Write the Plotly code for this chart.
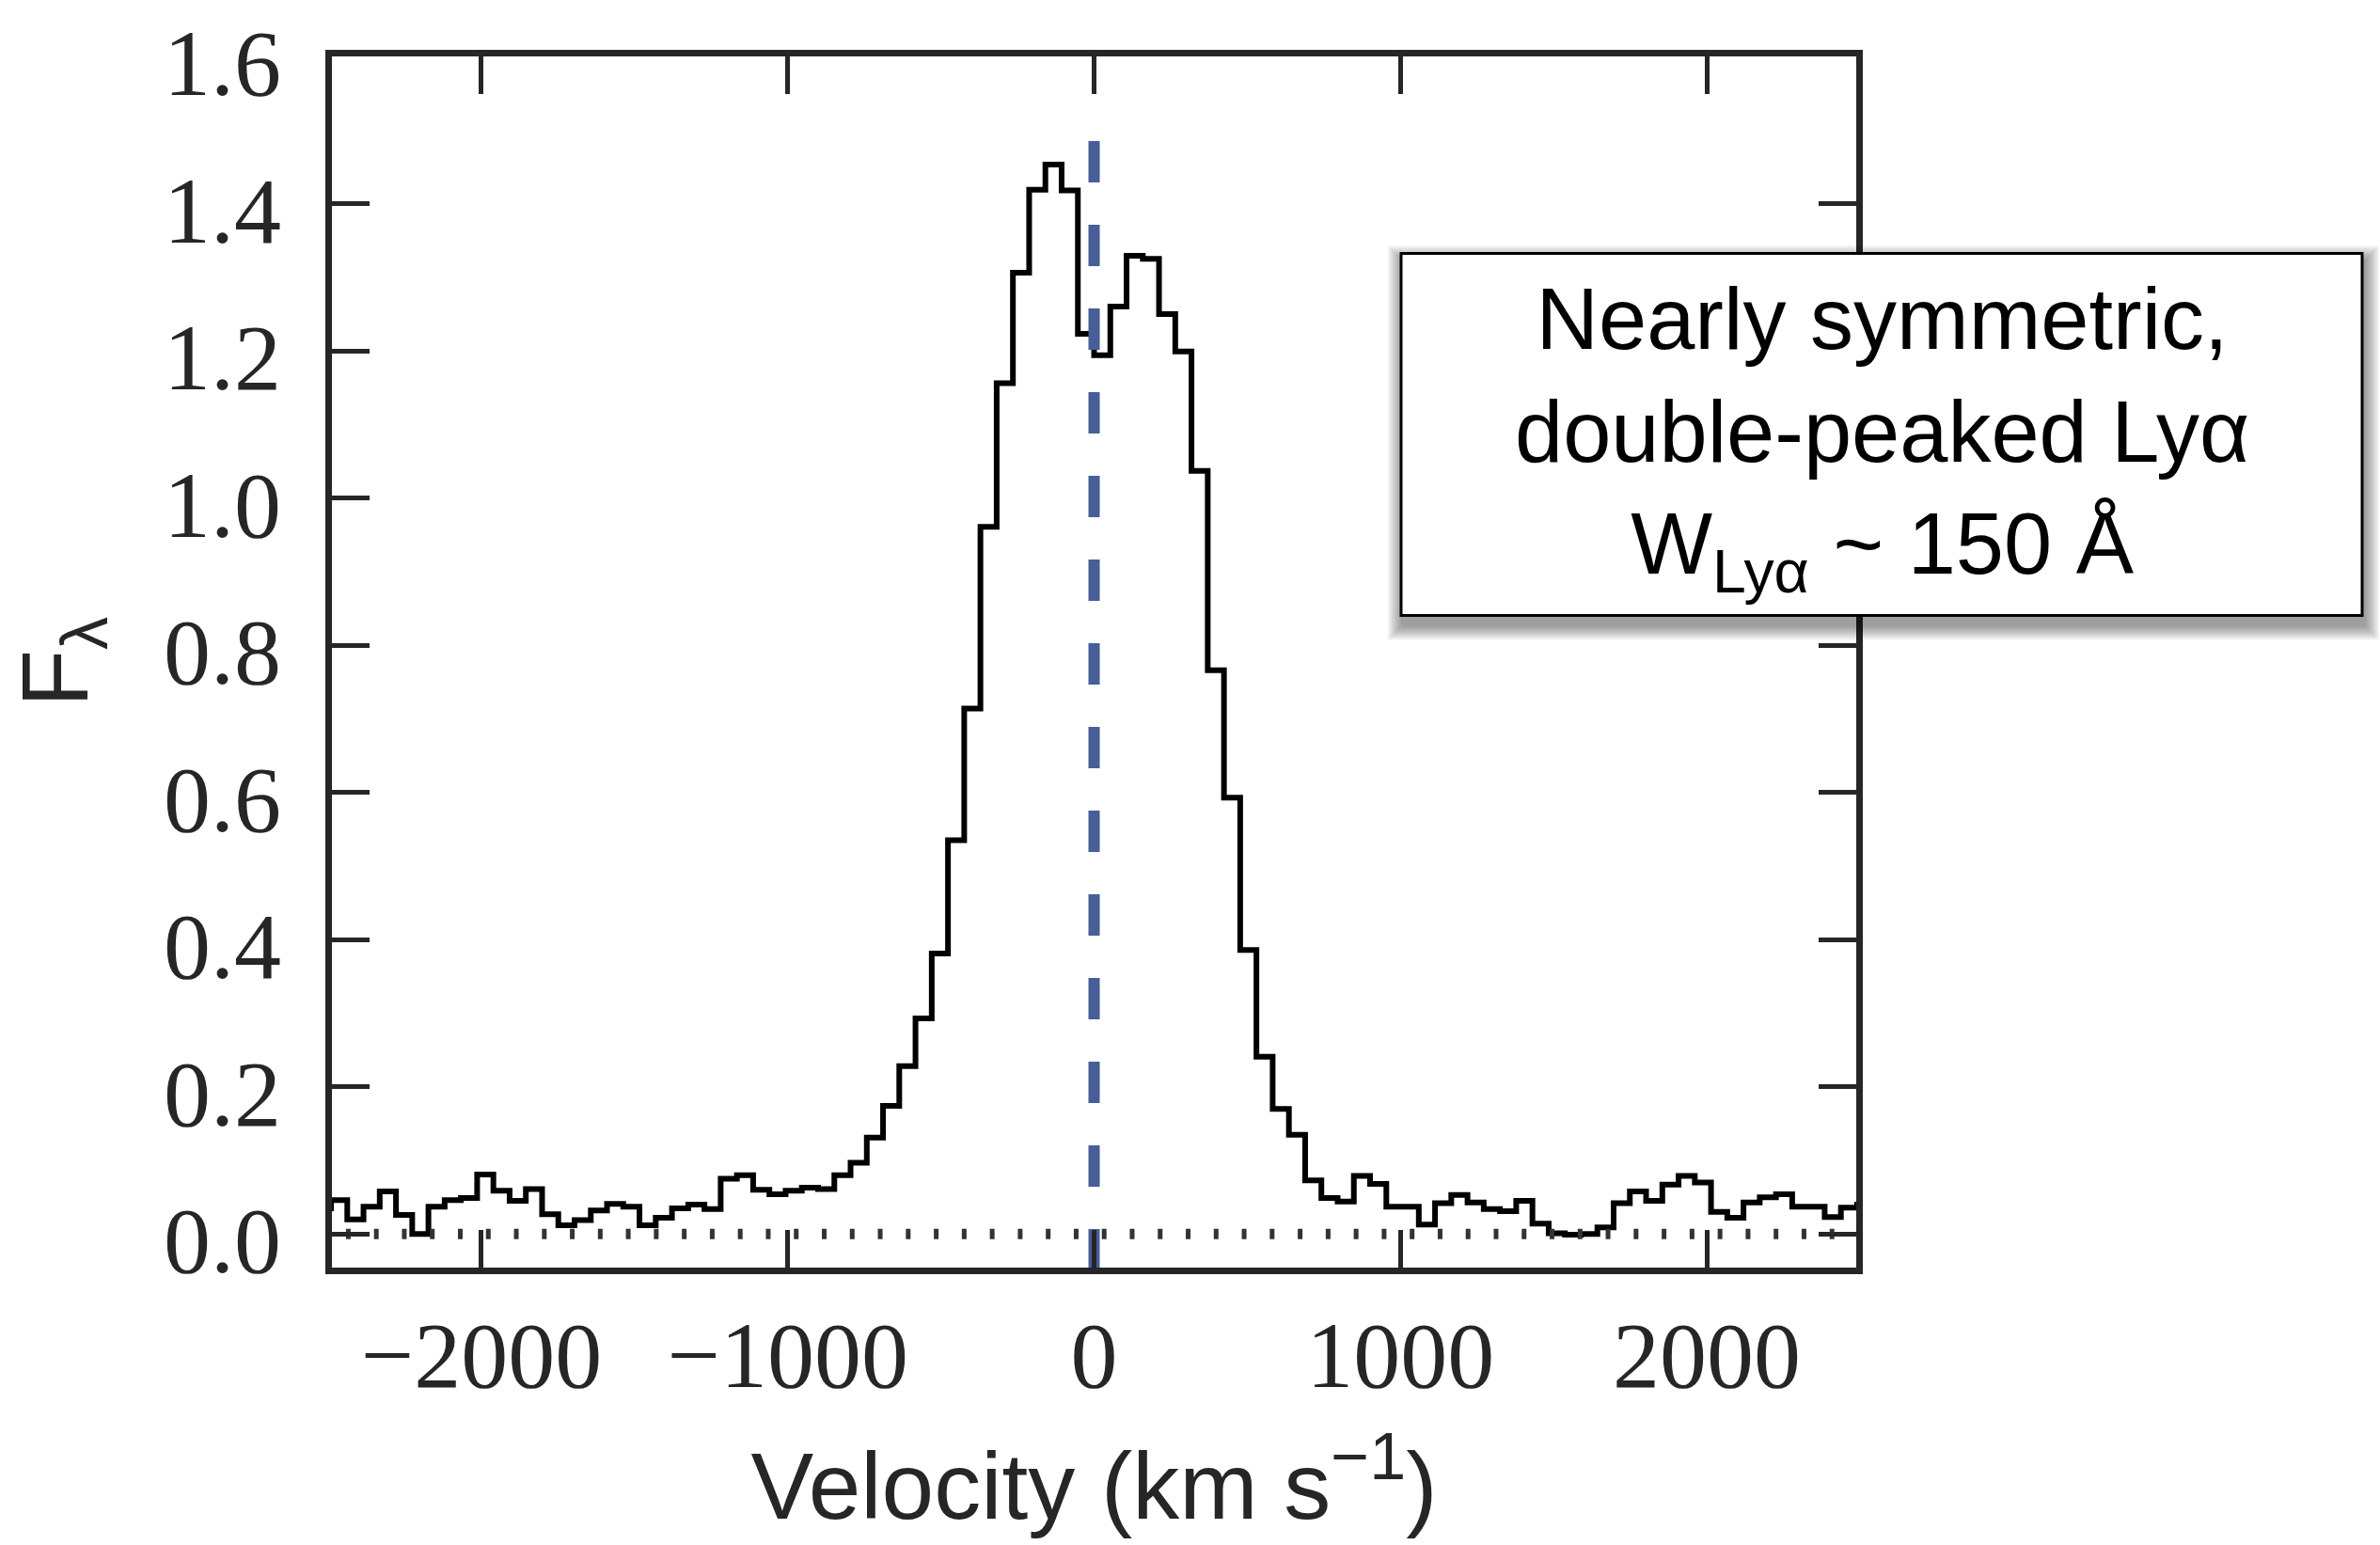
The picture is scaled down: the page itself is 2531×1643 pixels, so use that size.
import plotly.graph_objects as go

# ---------------- data ----------------
velocity = [
    -2517.5, -2464.5, -2411.5, -2358.5, -2305.5, -2252.5, -2199.5, -2146.5,
    -2093.5, -2040.5, -1987.5, -1934.5, -1881.5, -1828.5, -1775.5, -1722.5,
    -1669.5, -1616.5, -1563.5, -1510.5, -1457.5, -1404.5, -1351.5, -1298.5,
    -1245.5, -1192.5, -1139.5, -1086.5, -1033.5, -980.5, -927.5, -874.5,
    -821.5, -768.5, -715.5, -662.5, -609.5, -556.5, -503.5, -450.5,
    -397.5, -344.5, -291.5, -238.5, -185.5, -132.5, -79.5, -26.5,
    26.5, 79.5, 132.5, 185.5, 238.5, 291.5, 344.5, 397.5,
    450.5, 503.5, 556.5, 609.5, 662.5, 715.5, 768.5, 821.5,
    874.5, 927.5, 980.5, 1033.5, 1086.5, 1139.5, 1192.5, 1245.5,
    1298.5, 1351.5, 1404.5, 1457.5, 1510.5, 1563.5, 1616.5, 1669.5,
    1722.5, 1775.5, 1828.5, 1881.5, 1934.5, 1987.5, 2040.5, 2093.5,
    2146.5, 2199.5, 2252.5, 2305.5, 2358.5, 2411.5, 2464.5, 2517.5,
]
flux = [
    0.035, 0.046, 0.020, 0.037, 0.058, 0.026, 0.000, 0.037,
    0.046, 0.049, 0.081, 0.059, 0.045, 0.061, 0.027, 0.012,
    0.019, 0.032, 0.041, 0.037, 0.012, 0.022, 0.035, 0.040,
    0.034, 0.075, 0.080, 0.060, 0.054, 0.059, 0.063, 0.061,
    0.080, 0.097, 0.131, 0.174, 0.228, 0.293, 0.381, 0.535,
    0.714, 0.961, 1.156, 1.306, 1.419, 1.453, 1.418, 1.223,
    1.194, 1.260, 1.329, 1.325, 1.250, 1.199, 1.037, 0.766,
    0.593, 0.386, 0.241, 0.170, 0.135, 0.073, 0.049, 0.044,
    0.079, 0.068, 0.037, 0.037, 0.013, 0.042, 0.053, 0.043,
    0.034, 0.031, 0.045, 0.014, 0.001, -0.001, 0.000, 0.009,
    0.042, 0.058, 0.045, 0.067, 0.079, 0.070, 0.030, 0.022,
    0.043, 0.050, 0.054, 0.037, 0.037, 0.023, 0.036, 0.040,
]

x_tick_vals = [-2000, -1000, 0, 1000, 2000]
x_tick_text = ["\u22122000", "\u22121000", "0", "1000", "2000"]
y_tick_vals = [0.0, 0.2, 0.4, 0.6, 0.8, 1.0, 1.2, 1.4, 1.6]
y_tick_text = ["0.0", "0.2", "0.4", "0.6", "0.8", "1.0", "1.2", "1.4", "1.6"]

zero_level = 0.0
systemic_velocity = 0.0
systemic_line_top = 1.485

x_range = [-2488, 2488]
y_range = [-0.0456, 1.6]

annotation_text = ("Nearly symmetric,<br>double-peaked Ly\u03b1<br>"
                   "W<sub>Ly\u03b1</sub> ~ 150 \u00c5")

# ---------------- layout geometry ----------------
W, H = 2531, 1643
ML, MR, MT, MB = 353, 557, 57, 295
PW, PH = W - ML - MR, H - MT - MB


def px_to_paper(px, py):
    return (px - ML) / PW, (H - MB - py) / PH


INK = "#262626"

fig = go.Figure()

fig.add_trace(go.Scatter(
    x=velocity, y=flux, mode="lines",
    line=dict(color="black", width=6, shape="hvh"),
    showlegend=False, hoverinfo="skip",
))

fig.add_trace(go.Scatter(
    x=[-2533.6, 2500], y=[zero_level, zero_level], mode="lines",
    line=dict(color="#333333", width=11, dash="5px,24.77px"),
    showlegend=False, hoverinfo="skip",
))

fig.add_trace(go.Scatter(
    x=[systemic_velocity, systemic_velocity], y=[systemic_line_top, -0.07],
    mode="lines",
    line=dict(color="#475E96", width=12, dash="44px,45px"),
    showlegend=False, hoverinfo="skip",
))

# annotation box with a soft drop shadow
bx0, by0 = px_to_paper(1490, 653)
bx1, by1 = px_to_paper(2512, 267)
shapes = []
dxs, dys = 1.0 / PW, 1.0 / PH
for e in range(16, 0, -2):
    shapes.append(dict(
        type="rect", xref="paper", yref="paper", layer="above",
        x0=bx0 - (e - 2) * dxs, x1=bx1 + (e + 2) * dxs,
        y0=by0 - (e + 10) * dys, y1=by1 + (e - 8) * dys,
        fillcolor="rgba(0,0,0,0.055)", line=dict(width=0),
    ))
shapes.append(dict(
    type="rect", xref="paper", yref="paper", layer="above",
    x0=bx0, x1=bx1, y0=by0, y1=by1,
    fillcolor="white", line=dict(color="black", width=3),
))

ax_x, ax_y = px_to_paper(2001, 464)

fig.update_layout(
    width=W, height=H,
    margin=dict(l=ML, r=MR, t=MT, b=MB, pad=0),
    paper_bgcolor="white", plot_bgcolor="white",
    shapes=shapes,
    annotations=[dict(
        text=annotation_text, xref="paper", yref="paper",
        x=ax_x, y=ax_y, xanchor="center", yanchor="middle",
        showarrow=False, align="center",
        font=dict(family="Liberation Sans", size=92, color="black"),
    )],
    xaxis=dict(
        range=x_range, tickvals=x_tick_vals, ticktext=x_tick_text,
        showline=True, linewidth=7, linecolor=INK, mirror="ticks",
        ticks="inside", ticklen=40, tickwidth=4.5, tickcolor=INK,
        showgrid=False, zeroline=False,
        tickfont=dict(family="Liberation Serif", size=100, color=INK),
        title=dict(text="Velocity (km s<sup>\u22121</sup>)", standoff=51,
                   font=dict(family="Liberation Sans", size=100, color=INK)),
    ),
    yaxis=dict(
        range=y_range, tickvals=y_tick_vals, ticktext=y_tick_text,
        showline=True, linewidth=7, linecolor=INK, mirror="ticks",
        ticks="inside", ticklen=40, tickwidth=4.5, tickcolor=INK,
        showgrid=False, zeroline=False, ticklabelstandoff=27,
        ticklabelshift=6,
        tickfont=dict(family="Liberation Serif", size=100, color=INK),
        title=dict(text="F<sub>\u03bb</sub>", standoff=50,
                   font=dict(family="Liberation Sans", size=100, color=INK)),
    ),
)

fig.write_html("out.html")
